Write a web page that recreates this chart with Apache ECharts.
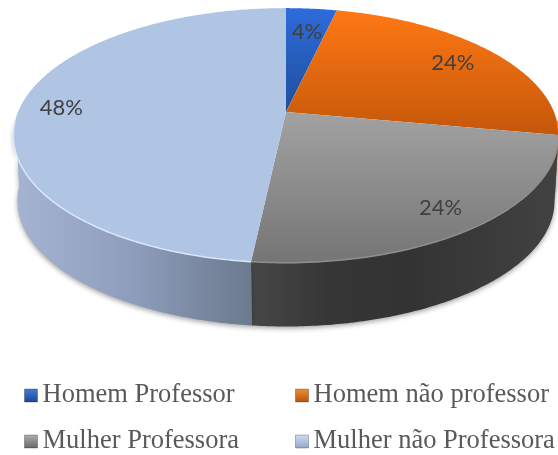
<!DOCTYPE html>
<html>
<head>
<meta charset="utf-8">
<style>
  html, body { margin: 0; padding: 0; background: #fff; }
  #main { width: 558px; height: 455px; }
</style>
<script src="https://cdn.jsdelivr.net/npm/echarts@6/dist/echarts.min.js"></script>
</head>
<body>
<div id="main"></div>
<script>
// dados
var categories = ['Homem Professor', 'Homem não professor', 'Mulher Professora', 'Mulher não Professora'];
var shares = [3.6, 24.3, 23.8, 48.3];

var total = shares.reduce(function (a, b) { return a + b; }, 0);
var grad = function (x2, y2, stops) {
    return new echarts.graphic.LinearGradient(0, 0, x2, y2, stops.map(function (c, i) {
        return { offset: i / (stops.length - 1), color: c };
    }));
};
var topColors = [
    grad(0, 1, ['#2e6cdc', '#1f4e9c']),
    grad(0, 1, ['#ff7814', '#c4570a']),
    grad(0, 1, ['#a2a2a2', '#757575']),
    '#b0c4e3'
];
var sideColors = [
    '#1f4e9c',
    '#b05008',
    grad(1, 0, ['#474747', '#363636', '#333333', '#3a3a3a', '#424242']),
    grad(1, 0, ['#a4b4d2', '#8e9dbb', '#6b7a8d'])
];
var rimColors = ['#2e6cdc', '#ff7814', '#8f8f8f', '#d9e7fb'];
var legendColors = [
    grad(0, 1, ['#3f7be0', '#1c468f']),
    grad(0, 1, ['#f5902e', '#b4530c']),
    grad(0, 1, ['#b0b0b0', '#666666']),
    grad(0, 1, ['#cddcf3', '#93a6c6'])
];
// distancia do rotulo ao centro, em fracao do raio
var labelRadius = [0.75, 0.8, 0.84, 0.85];
// posicao de cada item da legenda
var legendLeft = [24, 295, 24, 295];
var legendTop = [382, 382, 428, 428];

// disco em perspectiva
var cx = 286, cy = 112, ax = 268, ay = 123, persp = 0.184;
var depth = 64, bottomScale = 0.985;
var project = function (theta, r, lower) {
    var X = r * Math.sin(theta), Y = r * Math.cos(theta);
    var w = 1 + persp * Y;
    var s = lower ? bottomScale : 1;
    return [cx + s * ax * X / w, cy - s * ay * Y / w + (lower ? depth + 2 : 0)];
};
var arc = function (a0, a1, r, lower) {
    var pts = [], n = Math.max(2, Math.ceil(Math.abs(a1 - a0) / 0.01));
    for (var i = 0; i <= n; i++) {
        pts.push(project(a0 + (a1 - a0) * i / n, r, lower));
    }
    return pts;
};
var sideFrom = 94 * Math.PI / 180, sideTo = 266 * Math.PI / 180;

var renderSlice = function (idx) {
    return function (params, api) {
        var before = 0;
        for (var i = 0; i < idx; i++) before += shares[i];
        var a0 = before / total * Math.PI * 2;
        var a1 = (before + api.value(0)) / total * Math.PI * 2;
        var children = [];
        var s0 = Math.max(a0, sideFrom), s1 = Math.min(a1, sideTo);
        if (s1 > s0) {
            children.push({
                type: 'polygon',
                z2: 1,
                shape: { points: arc(s0, s1, 1, false).concat(arc(s1, s0, 1, true)) },
                style: { fill: sideColors[idx], shadowBlur: 5, shadowColor: 'rgba(0,0,0,0.35)', shadowOffsetY: 2 }
            });
        }
        children.push({
            type: 'polygon',
            z2: 2,
            shape: { points: [project(0, 0, false)].concat(arc(a0, a1, 1, false)) },
            style: { fill: topColors[idx] }
        });
        if (s1 > s0) {
            children.push({
                type: 'polyline',
                z2: 3,
                shape: { points: arc(s0, s1, 1, false) },
                style: { fill: null, stroke: rimColors[idx], lineWidth: 1.5 }
            });
        }
        var mid = project((a0 + a1) / 2, labelRadius[idx], false);
        children.push({
            type: 'text',
            z2: 4,
            style: {
                x: mid[0] + 1, y: mid[1] + 1,
                text: Math.round(api.value(0) / total * 100) + '%',
                align: 'center', verticalAlign: 'middle',
                fontFamily: 'Lato, sans-serif', fontSize: 22, fill: '#404040'
            }
        });
        return { type: 'group', children: children };
    };
};

var myChart = echarts.init(document.getElementById('main'), null, { renderer: 'canvas' });
var option = {
    animation: false,
    backgroundColor: '#fff',
    legend: categories.map(function (name, i) {
        return {
            left: legendLeft[i],
            top: legendTop[i],
            padding: 0,
            itemWidth: 13,
            itemHeight: 13,
            icon: 'rect',
            selectedMode: false,
            textStyle: { fontFamily: '"Liberation Serif", serif', fontSize: 26.5, color: '#595959' },
            data: [{ name: name, itemStyle: { color: legendColors[i], borderColor: 'rgba(0,0,0,0.25)', borderWidth: 1 } }]
        };
    }),
    series: categories.map(function (name, i) {
        return {
            type: 'custom',
            name: name,
            coordinateSystem: 'none',
            silent: true,
            itemStyle: { color: legendColors[i] },
            renderItem: renderSlice(i),
            data: [[shares[i]]]
        };
    })
};
myChart.setOption(option);
window.addEventListener('resize', function () {
    myChart.resize();
});
</script>
</body>
</html>
